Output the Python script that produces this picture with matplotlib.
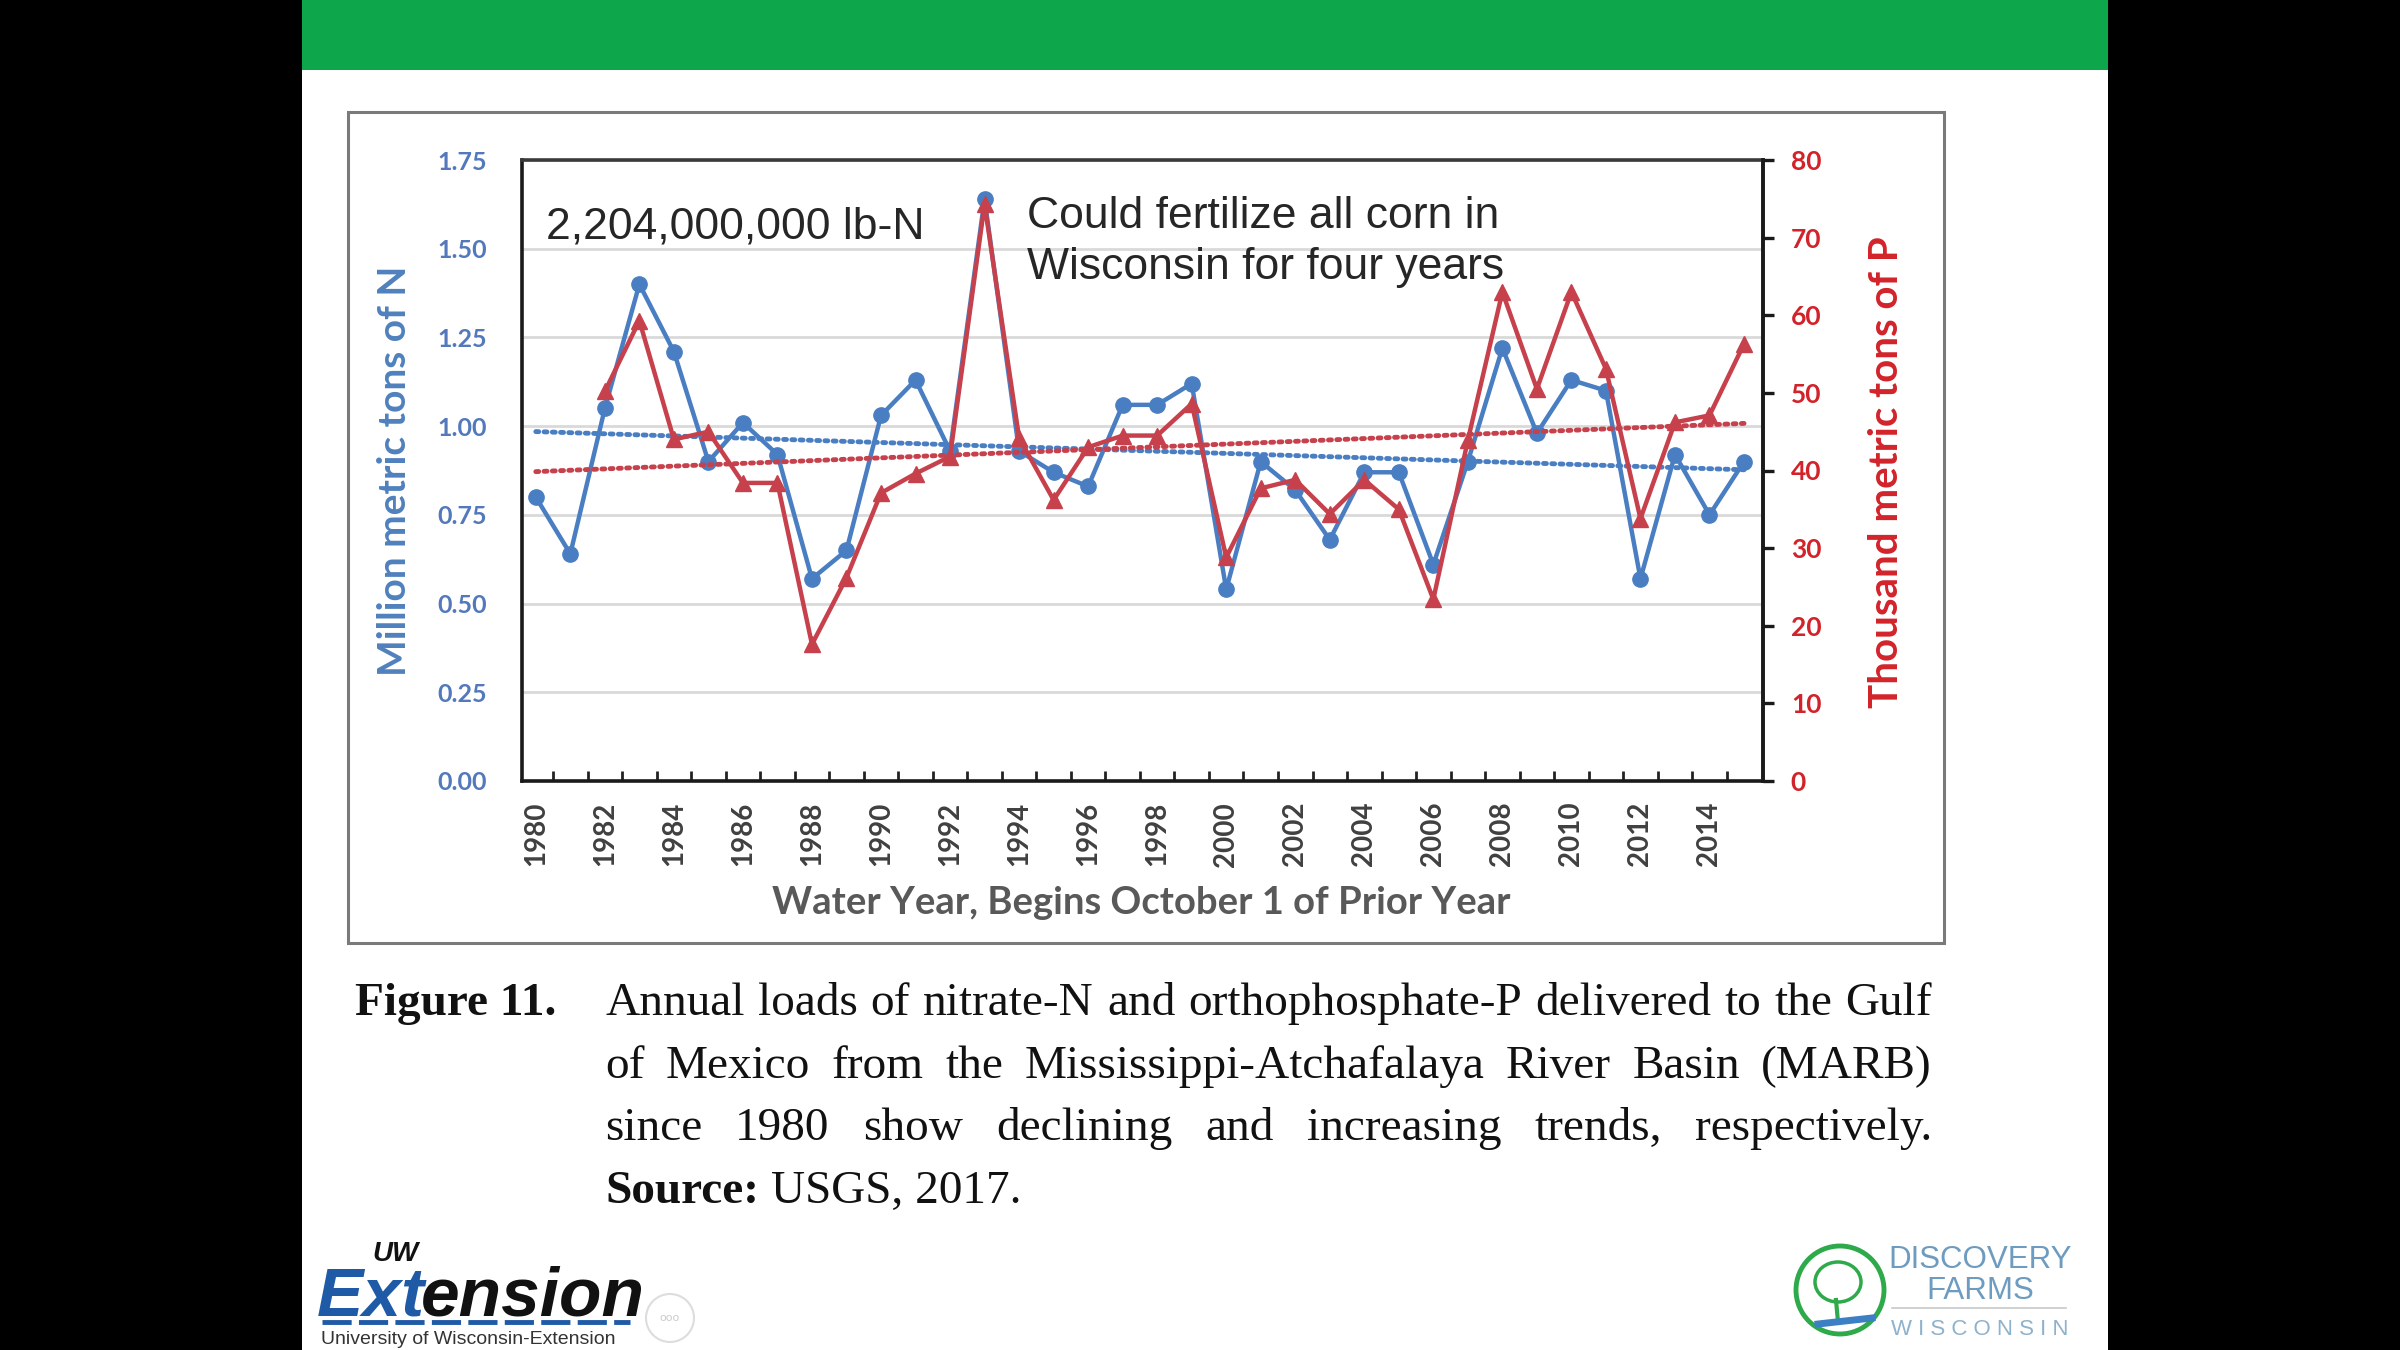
import numpy as np
import matplotlib
matplotlib.use('Agg')
import matplotlib.pyplot as plt
from matplotlib.patches import Rectangle, Ellipse
from matplotlib.lines import Line2D
from matplotlib.ticker import FixedLocator

# ---------------- data ----------------
years = list(range(1980, 2016))
nitrogen_mmt = [0.80, 0.64, 1.05, 1.40, 1.21, 0.90, 1.01, 0.92, 0.57, 0.65,
                1.03, 1.13, 0.93, 1.64, 0.93, 0.87, 0.83, 1.06, 1.06, 1.12,
                0.54, 0.90, 0.82, 0.68, 0.87, 0.87, 0.61, 0.90, 1.22, 0.98,
                1.13, 1.10, 0.57, 0.92, 0.75, 0.90]
p_years = list(range(1982, 2016))
phosphorus_kmt = [50.2, 59.3, 44.0, 45.0, 38.4, 38.4, 17.6, 26.2, 37.1, 39.6,
                  41.8, 74.3, 44.2, 36.2, 43.0, 44.5, 44.5, 48.6, 28.8, 37.7,
                  38.8, 34.4, 38.8, 35.0, 23.4, 43.9, 63.0, 50.5, 63.0, 53.1,
                  33.8, 46.2, 47.1, 56.3]
n_ticks = [0.00, 0.25, 0.50, 0.75, 1.00, 1.25, 1.50, 1.75]
p_ticks = [0, 10, 20, 30, 40, 50, 60, 70, 80]
xtick_years = list(range(1980, 2015, 2))

note_left = "2,204,000,000 lb-N"
note_right = ["Could fertilize all corn in", "Wisconsin for four years"]
y_label_n = "Million metric tons of N"
y_label_p = "Thousand metric tons of P"
x_label = "Water Year, Begins October 1 of Prior Year"
caption_head = "Figure 11."
caption_lines = [
    "Annual loads of nitrate-N and orthophosphate-P delivered to the Gulf",
    "of Mexico from the Mississippi-Atchafalaya River Basin (MARB)",
    "since 1980 show declining and increasing trends, respectively.",
]
caption_source = ("Source:", "USGS, 2017.")

# ---------------- style ----------------
BLUE = '#4A7EC2'
BLUE_TXT = '#5379BC'
RED = '#C6414C'
RED_TXT = '#D2232A'
GRAY_TXT = '#595959'
AXFONT = 'Lato'

W, H = 2400, 1350
fig = plt.figure(figsize=(24, 13.5), dpi=100, facecolor='black')


def fx(px):
    return px / W


def fy(py):
    return 1 - py / H


# slide background, header bar, chart frame
fig.patches.append(Rectangle((fx(302), 0), fx(2108) - fx(302), 1,
                             transform=fig.transFigure, facecolor='white',
                             edgecolor='none', zorder=-5))
fig.patches.append(Rectangle((fx(302), fy(70)), fx(2108) - fx(302), 70 / H,
                             transform=fig.transFigure, facecolor='#0DA64A',
                             edgecolor='none', zorder=-4))
fig.patches.append(Rectangle((fx(348), fy(943)), fx(1944) - fx(348), (943 - 112) / H,
                             transform=fig.transFigure, facecolor='white',
                             edgecolor='#7A7A7A', lw=2.2, zorder=-3))

# ---------------- axes ----------------
ax = fig.add_axes([fx(522), fy(781), (1763 - 522) / W, (781 - 160) / H])
ax.set_facecolor('white')
ax.set_xlim(1979.6, 2015.55)
ax.set_ylim(0, 1.75)
ax.set_yticks(n_ticks)
ax.set_yticklabels([f"{v:.2f}" for v in n_ticks])
ax.grid(axis='y', color='#D9D9D9', lw=2.0)
ax.set_axisbelow(True)
ax.tick_params(axis='y', length=0, pad=25, labelsize=18, labelcolor=BLUE_TXT)
for lab in ax.get_yticklabels():
    lab.set_fontweight('bold')
    lab.set_family(AXFONT)

ax.set_xticks(xtick_years)
ax.set_xticklabels([str(y) for y in xtick_years], rotation=90)
ax.tick_params(axis='x', which='major', length=0, pad=15, labelsize=20,
               labelcolor='#404040')
# category-boundary tick marks (between years)
ax.xaxis.set_minor_locator(FixedLocator([y + 0.5 for y in years[:-1]]))
ax.tick_params(axis='x', which='minor', direction='in', length=7, width=2,
               color='#222222')
for lab in ax.get_xticklabels():
    lab.set_fontweight('bold')
    lab.set_family(AXFONT)

for side, sp in ax.spines.items():
    sp.set_linewidth(2.6)
    sp.set_color('#1A1A1A' if side != 'top' else '#3A3A3A')

# N series and trend
ax.plot(years, nitrogen_mmt, color=BLUE, lw=3.2, marker='o', markersize=11,
        markerfacecolor=BLUE, markeredgecolor=BLUE, zorder=3)
cn = np.polyfit(years, nitrogen_mmt, 1)
tx = np.array([years[0], years[-1]])
ax.plot(tx, np.polyval(cn, tx), color=BLUE, lw=3.5, dashes=(0.6, 1.1),
        dash_capstyle='round', zorder=2)

ax2 = ax.twinx()
ax2.set_ylim(0, 80)
ax2.set_yticks(p_ticks)
ax2.set_yticklabels([str(v) for v in p_ticks])
ax2.tick_params(axis='y', direction='out', length=8, width=2.4, color='#1A1A1A',
                pad=12, labelsize=19, labelcolor=RED_TXT)
for lab in ax2.get_yticklabels():
    lab.set_fontweight('bold')
    lab.set_family(AXFONT)
for sp in ax2.spines.values():
    sp.set_visible(False)
ax2.spines['right'].set_visible(True)
ax2.spines['right'].set_linewidth(2.6)
ax2.spines['right'].set_color('#1A1A1A')

cp = np.polyfit(p_years, phosphorus_kmt, 1)
ax2.plot(tx, np.polyval(cp, tx), color=RED, lw=3.5, dashes=(0.6, 1.1),
         dash_capstyle='round', zorder=2)
ax2.plot(p_years, phosphorus_kmt, color=RED, lw=3.2, marker='^', markersize=11,
         markerfacecolor=RED, markeredgecolor=RED, zorder=3)

# annotations
ax.text(0.019, 0.873, note_left, transform=ax.transAxes, fontsize=32,
        family='Liberation Sans', color='#262626', va='baseline', ha='left')
ax.text(0.407, 0.891, note_right[0], transform=ax.transAxes, fontsize=32,
        family='Liberation Sans', color='#262626', va='baseline', ha='left')
ax.text(0.407, 0.808, note_right[1], transform=ax.transAxes, fontsize=32,
        family='Liberation Sans', color='#262626', va='baseline', ha='left')

# axis labels
fig.text(fx(395), fy(471), y_label_n, rotation=90, ha='center', va='center',
         fontsize=28, fontweight='bold', family=AXFONT, color='#4F81BD')
fig.text(fx(1886), fy(472), y_label_p, rotation=90, ha='center', va='center',
         fontsize=29, fontweight='bold', family=AXFONT, color=RED_TXT)
fig.text(fx(1141), fy(903), x_label, ha='center', va='center',
         fontsize=27.5, fontweight='bold', family=AXFONT, color=GRAY_TXT)

# ---------------- caption (justified) ----------------
renderer = fig.canvas.get_renderer()
SERIF = 'Liberation Serif'
left_px, right_px = 605, 1932
baselines = [1015, 1078, 1140, 1203]
base_size = 34


def word_widths(words, size, weight='normal'):
    ws = []
    for w in words:
        t = fig.text(0, 0, w, fontsize=size, family=SERIF, fontweight=weight)
        ws.append(t.get_window_extent(renderer).width)
        t.remove()
    return ws


w1 = caption_lines[0].split()
ww = word_widths(w1, base_size)
min_gap = 0.12 * base_size * 100 / 72
scale = (right_px - left_px) / (sum(ww) + min_gap * (len(w1) - 1))
size = base_size * min(1.0, scale)

fig.text(fx(355), fy(baselines[0]), caption_head, fontsize=size, family=SERIF,
         fontweight='bold', color='#111111', va='baseline', ha='left')

for line, base in zip(caption_lines, baselines):
    words = line.split()
    ws = word_widths(words, size)
    gap = (right_px - left_px - sum(ws)) / (len(words) - 1)
    x = left_px
    for w, wd in zip(words, ws):
        fig.text(fx(x), fy(base), w, fontsize=size, family=SERIF,
                 color='#111111', va='baseline', ha='left')
        x += wd + gap

sw = word_widths([caption_source[0]], size, 'bold')[0]
space = size * 0.25 * 100 / 72
fig.text(fx(left_px), fy(baselines[3]), caption_source[0], fontsize=size,
         family=SERIF, fontweight='bold', color='#111111', va='baseline')
fig.text(fx(left_px + sw + space), fy(baselines[3]), caption_source[1],
         fontsize=size, family=SERIF, color='#111111', va='baseline')

# ---------------- logos ----------------
# UW Extension
t_ext = fig.text(fx(317), fy(1316), "Ext", fontsize=50, fontweight='bold',
                 style='italic', family='Liberation Sans', color='#1F5AA6',
                 va='baseline')
ew = t_ext.get_window_extent(renderer).width
fig.text(fx(317 + ew - 4), fy(1316), "ension", fontsize=50, fontweight='bold',
         style='italic', family='Liberation Sans', color='#111111', va='baseline')
fig.text(fx(372), fy(1261), "UW", fontsize=20, fontweight='bold', style='italic',
         family='Liberation Sans', color='#111111', va='baseline')
fig.lines.append(Line2D([fx(322), fx(630)], [fy(1322), fy(1322)],
                        transform=fig.transFigure, color='#1F5AA6', lw=3.5,
                        dashes=(6, 1.5)))
fig.text(fx(321), fy(1344), "University of Wisconsin-Extension", fontsize=14,
         family='Liberation Sans', color='#333333', va='baseline')
fig.patches.append(Ellipse((fx(670), fy(1318)), 48 / W, 48 / H,
                           transform=fig.transFigure, facecolor='white',
                           edgecolor='#DDDDDD', lw=1.5))
fig.text(fx(670), fy(1318), "ooo", fontsize=8, color='#CCCCCC',
         ha='center', va='center')

# Discovery Farms
fig.patches.append(Ellipse((fx(1840), fy(1290)), 88 / W, 88 / H,
                           transform=fig.transFigure, facecolor='none',
                           edgecolor='#2EAA4A', lw=3.5))
fig.patches.append(Ellipse((fx(1838), fy(1282)), 46 / W, 40 / H,
                           transform=fig.transFigure, facecolor='none',
                           edgecolor='#2EAA4A', lw=2.5))
fig.lines.append(Line2D([fx(1836), fx(1838)], [fy(1300), fy(1322)],
                        transform=fig.transFigure, color='#2EAA4A', lw=3))
fig.lines.append(Line2D([fx(1818), fx(1872)], [fy(1324), fy(1318)],
                        transform=fig.transFigure, color='#3C7FC4', lw=5))
DF_COL = '#6E9CC0'
fig.text(fx(1980), fy(1268), "DISCOVERY", fontsize=22.5, family='Liberation Sans',
         color=DF_COL, ha='center', va='baseline')
fig.text(fx(1980), fy(1299), "FARMS", fontsize=22.5, family='Liberation Sans',
         color=DF_COL, ha='center', va='baseline')
fig.lines.append(Line2D([fx(1892), fx(2066)], [fy(1308), fy(1308)],
                        transform=fig.transFigure, color='#C8C8C8', lw=1.2))
fig.text(fx(1980), fy(1335), "W I S C O N S I N", fontsize=16,
         family='Liberation Sans', color='#8FB2CC', ha='center', va='baseline')

fig.savefig('out.png', dpi=100, facecolor='black')
